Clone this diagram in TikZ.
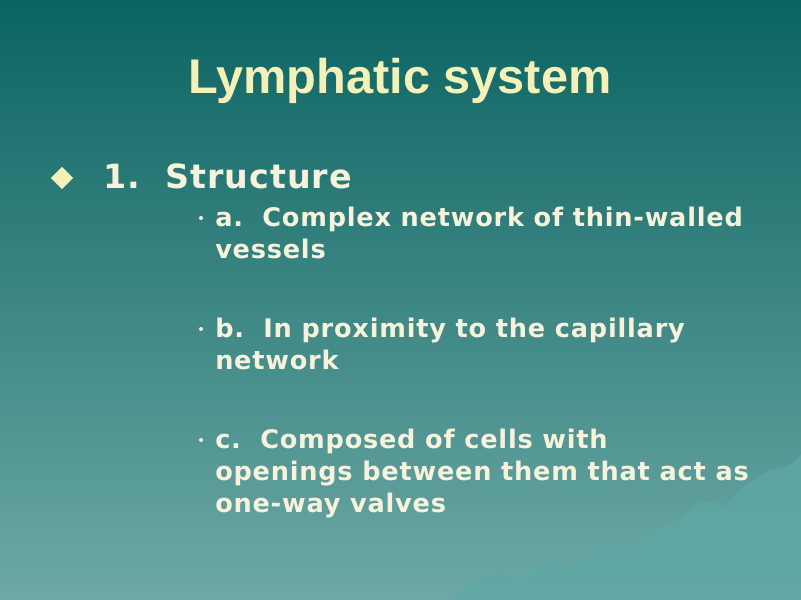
\documentclass[tikz,border=0pt]{standalone}
\usepackage{fontspec}
\setmainfont{DejaVu Sans}
\newfontfamily\titlefont{Liberation Sans}
\newfontfamily\itemfont[LetterSpace=3]{DejaVu Sans}
\usetikzlibrary{shapes.geometric}
\definecolor{bgtop}{HTML}{0B6462}
\definecolor{bgbot}{HTML}{6DA9A6}
\definecolor{titlecol}{HTML}{F4F1B8}
\definecolor{textcol}{HTML}{F6F2DC}
\definecolor{hill}{HTML}{5FA8A6}
\begin{document}
\begin{tikzpicture}[x=0.75pt,y=-0.75pt,
    line/.style={anchor=base west, text=textcol, font=\itemfont\bfseries\fontsize{19.2}{22}\selectfont, inner sep=0pt},
    dot/.style={circle, fill=textcol, inner sep=0pt, minimum size=3pt}]
  \useasboundingbox (0,0) rectangle (801,600);
  \shade[top color=bgtop, bottom color=bgbot] (0,0) rectangle (801,600);
  % hills
  \fill[hill, opacity=0.7] (450,600) -- (480,575) -- (500,570) -- (520,580) -- (545,560) -- (570,565) -- (600,545) -- (625,550) -- (650,530) -- (680,520) -- (700,500) -- (725,505) -- (745,485) -- (770,470) -- (790,465) -- (801,455) -- (801,600) -- cycle;
  % title
  \node[anchor=base, text=titlecol, font=\titlefont\bfseries\fontsize{36.5}{40}\selectfont, inner sep=0pt] (title) at (400,93) {Lymphatic system};
  % main bullet
  \node[diamond, fill=titlecol, inner sep=0pt, minimum size=17pt] (dia) at (62,178) {};
  \node[line, font=\itemfont\bfseries\fontsize{25}{30}\selectfont] (head) at (103,188) {1.\ \ Structure};
  % items
  \node[dot] (d1) at (201,218) {};
  \node[line] (a1) at (215,226) {a.\ \ Complex network of thin-walled};
  \node[line] (a2) at (215,258) {vessels};
  \node[dot] (d2) at (201,329) {};
  \node[line] (b1) at (215,337) {b.\ \ In proximity to the capillary};
  \node[line] (b2) at (215,369) {network};
  \node[dot] (d3) at (201,440) {};
  \node[line] (c1) at (215,448) {c.\ \ Composed of cells with};
  \node[line] (c2) at (215,480) {openings between them that act as};
  \node[line] (c3) at (215,512) {one-way valves};
\end{tikzpicture}
\end{document}
